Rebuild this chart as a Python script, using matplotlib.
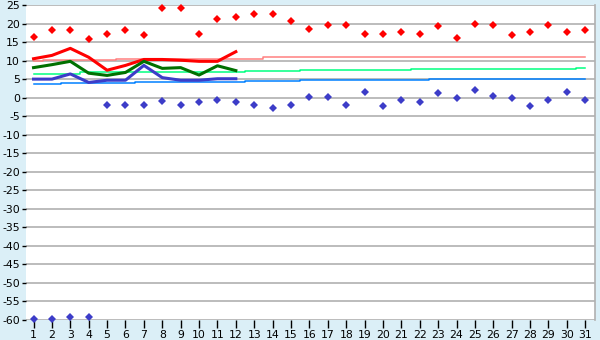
import numpy as np
import matplotlib
matplotlib.use("Agg")
import matplotlib.pyplot as plt

plt.rcParams["axes.unicode_minus"] = False

days = list(range(1, 32))

# daily extremes (points)
high_pts = [16.3, 18.2, 18.2, 15.7, 17.1, 18.2, 16.8, 24.1, 24.1, 17.3,
            21.1, 21.7, 22.7, 22.7, 20.6, 18.4, 19.5, 19.5, 17.3, 17.1,
            17.6, 17.1, 19.2, 16.0, 20.0, 19.5, 16.8, 17.6, 19.5, 17.6, 18.2]
low_pts = [-59.8, -59.8, -59.2, -59.2, -2.1, -2.1, -2.1, -0.9, -2.1, -1.3,
           -0.7, -1.3, -2.1, -2.9, -2.1, 0.1, 0.1, -2.1, 1.4, -2.3,
           -0.5, -1.3, 1.2, -0.2, 2.0, 0.4, -0.2, -2.3, -0.7, 1.4, -0.5]

# measured series (first 12 days)
max_line = [10.5, 11.4, 13.3, 10.9, 7.4, 8.7, 10.3, 10.3, 10.1, 9.8, 9.8, 12.4]
mean_line = [8.1, 8.9, 9.8, 6.6, 6.0, 6.8, 9.8, 7.9, 8.1, 6.1, 8.6, 7.3]
min_line = [5.0, 5.0, 6.4, 4.1, 4.7, 4.7, 8.7, 5.4, 4.7, 4.7, 5.1, 5.1]

# long-term averages (thin step lines)
avg_max = [9.8] + [10.1] * 4 + [10.5] * 8 + [10.9] * 6 + [11.1] * 12
avg_mean = [6.3] * 3 + [6.8] * 9 + [7.2] * 3 + [7.4] * 6 + [7.6] * 9 + [7.9]
avg_min = [3.6] * 2 + [3.9] * 4 + [4.2] * 6 + [4.5] * 3 + [4.75] * 7 + [5.0] * 9

yticks = list(range(-60, 26, 5))

bg = "#dbeff7"
fig = plt.figure(figsize=(6, 3.4), dpi=100, facecolor=bg)
ax = fig.add_axes([26 / 600, 20 / 340, 569 / 600, 315 / 340])
ax.set_facecolor("white")

for y in yticks:
    ax.axhline(y, color="#b0b0b0", lw=1.2, zorder=0)

ax.step(days, avg_max, where="mid", color="#ff8080", lw=1.1, zorder=2)
ax.step(days, avg_mean, where="mid", color="#00ff80", lw=1.1, zorder=2)
ax.step(days, avg_min, where="mid", color="#0080ff", lw=1.1, zorder=2)

n = len(max_line)
ax.plot(days[:n], max_line, color="#ff0000", lw=2.2, zorder=3)
ax.plot(days[:n], mean_line, color="#007000", lw=2.2, zorder=3)
ax.plot(days[:n], min_line, color="#3c3cc8", lw=2.2, zorder=3)

ax.plot(days, high_pts, "D", color="#ff0000", ms=4.2, mew=0, ls="none", zorder=4, clip_on=False)
ax.plot(days, low_pts, "D", color="#3c3cc8", ms=4.2, mew=0, ls="none", zorder=4, clip_on=False)

ax.set_xlim(0.59, 31.53)
ax.set_ylim(-60, 25)
ax.set_xticks(days)
ax.set_yticks(yticks)
ax.tick_params(axis="y", labelsize=7.8, color="black", length=3, width=1, pad=1.5)
ax.tick_params(axis="x", labelsize=7.8, color="black", length=5.5, width=1, pad=1.5)

for s in ["left", "bottom", "top"]:
    ax.spines[s].set_visible(False)
ax.spines["right"].set_color("#b0b0b0")
ax.spines["right"].set_linewidth(1.2)

fig.savefig("out.png", dpi=100, facecolor=bg)
